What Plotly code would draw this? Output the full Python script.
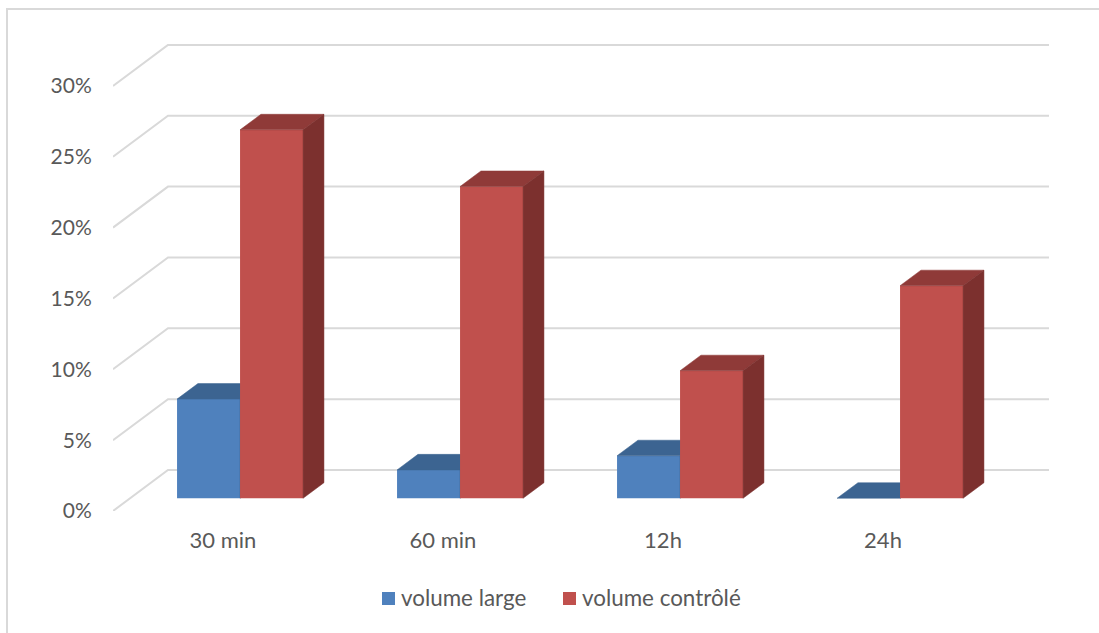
import plotly.graph_objects as go

# Chart data
categories = ["30 min", "60 min", "12h", "24h"]
volume_large = [7, 2, 3, 0]
volume_controle = [26, 22, 9, 15]
y_ticks = [0, 5, 10, 15, 20, 25, 30]
y_tick_labels = ["0%", "5%", "10%", "15%", "20%", "25%", "30%"]
series_names = ["volume large", "volume contrôlé"]

# Page and plot geometry (pixels)
W, H = 1099, 633
PLOT_L, PLOT_R, PLOT_T, PLOT_B = 113, 1049, 44, 511
PX_PER_CAT = 220.0
PX_PER_PCT = 14.17
FONT = "Lato"
FONT_SIZE = 22
TEXT = "#595959"
GRID = "#D9D9D9"

x_lo = -0.5
x_hi = x_lo + (PLOT_R - PLOT_L) / PX_PER_CAT
y_lo = 0.0
y_hi = (PLOT_B - PLOT_T) / PX_PER_PCT

# Oblique projection of the depth axis, in axis units per full depth
DEPTH_DX = 55 / PX_PER_CAT
DEPTH_DY = 41 / PX_PER_PCT
BAR_FRONT = 0.31
BAR_BACK = 0.69
BAR_W = 63 / PX_PER_CAT


def project(x, y, depth):
    return x + depth * DEPTH_DX, y + depth * DEPTH_DY


def polygon(points, color, axes):
    xs, ys = zip(*points)
    return go.Scatter(
        x=list(xs) + [xs[0]], y=list(ys) + [ys[0]],
        mode="lines", fill="toself", fillcolor=color,
        line=dict(color=color, width=0.5),
        hoverinfo="skip", showlegend=False,
        xaxis=axes[0], yaxis=axes[1],
    )


def bar_traces(values, offset, name, front, top, side, axes):
    """Front face as a real bar, top and side as projected polygons."""
    fx, base = project(0, 0, BAR_FRONT)
    xs = [i + fx + offset for i in range(len(values))]
    traces = [go.Bar(
        x=xs, y=values, base=[base] * len(values), width=BAR_W, name=name,
        marker=dict(color=front, line=dict(width=0)),
        showlegend=False, xaxis=axes[0], yaxis=axes[1],
    )]
    for cx, v in zip(xs, values):
        x0, x1 = cx - BAR_W / 2, cx + BAR_W / 2
        y0 = base + v
        d = BAR_BACK - BAR_FRONT
        ddx, ddy = d * DEPTH_DX, d * DEPTH_DY
        traces.append(polygon(
            [(x0, y0), (x1, y0), (x1 + ddx, y0 + ddy), (x0 + ddx, y0 + ddy)],
            top, axes))
        traces.append(polygon(
            [(x1, base), (x1, y0), (x1 + ddx, y0 + ddy), (x1 + ddx, base + ddy)],
            side, axes))
    return traces


fig = go.Figure()

# Back-wall and side-wall gridlines
for t in y_ticks:
    p0 = project(x_lo, t, 0)
    p1 = project(x_lo, t, 1)
    p2 = (x_hi, p1[1])
    fig.add_trace(go.Scatter(
        x=[p0[0], p1[0], p2[0]], y=[p0[1], p1[1], p2[1]],
        mode="lines", line=dict(color=GRID, width=2),
        hoverinfo="skip", showlegend=False,
    ))

# Each series gets its own overlay axes so it paints above the gridlines,
# and the red one also occludes the blue one
fig.add_traces(bar_traces(volume_large, -BAR_W / 2, series_names[0],
                          "#4F81BD", "#3C6491", "#3A5F8B", ("x2", "y2")))
fig.add_traces(bar_traces(volume_controle, BAR_W / 2, series_names[1],
                          "#C0504D", "#8F3A38", "#7C302E", ("x3", "y3")))


def px(x):
    return (x - PLOT_L) / (PLOT_R - PLOT_L)


def py(y):
    return (PLOT_B - y) / (PLOT_B - PLOT_T)


# Legend row
legend_items = [(382, series_names[0], "#4F81BD"), (563, series_names[1], "#C0504D")]
shapes = []
annotations = []
for left, label, color in legend_items:
    shapes.append(dict(type="rect", xref="paper", yref="paper",
                       x0=px(left), x1=px(left + 13),
                       y0=py(605), y1=py(592),
                       fillcolor=color, line=dict(width=0)))
    annotations.append(dict(xref="paper", yref="paper",
                            x=px(left + 17), y=py(597), text=label,
                            showarrow=False, xanchor="left", yanchor="middle",
                            font=dict(family=FONT, size=22.4, color=TEXT)))

# Chart-area frame
shapes.append(dict(type="line", xref="paper", yref="paper",
                   x0=px(7), x1=px(7), y0=py(8), y1=py(633),
                   line=dict(color=GRID, width=2)))
shapes.append(dict(type="line", xref="paper", yref="paper",
                   x0=px(6), x1=px(1099), y0=py(9), y1=py(9),
                   line=dict(color=GRID, width=2)))

overlay = dict(range=[x_lo, x_hi], overlaying="x", visible=False)
overlay_y = dict(range=[y_lo, y_hi], overlaying="y", visible=False)

fig.update_layout(
    width=W, height=H,
    margin=dict(l=PLOT_L, r=W - PLOT_R, t=PLOT_T, b=H - PLOT_B),
    paper_bgcolor="white", plot_bgcolor="white",
    showlegend=False,
    barmode="overlay",
    shapes=shapes, annotations=annotations,
    font=dict(family=FONT, size=FONT_SIZE, color=TEXT),
    xaxis=dict(range=[x_lo, x_hi], tickmode="array",
               tickvals=list(range(len(categories))), ticktext=categories,
               showgrid=False, zeroline=False, showline=False,
               ticks="outside", ticklen=10, tickcolor="rgba(0,0,0,0)"),
    yaxis=dict(range=[y_lo, y_hi], tickmode="array",
               tickvals=y_ticks, ticktext=y_tick_labels,
               tickfont=dict(size=21),
               showgrid=False, zeroline=False, showline=False,
               ticks="outside", ticklen=16, tickcolor="rgba(0,0,0,0)"),
    xaxis2=overlay, yaxis2=overlay_y,
    xaxis3=overlay, yaxis3=overlay_y,
)

fig.write_html("out.html")
